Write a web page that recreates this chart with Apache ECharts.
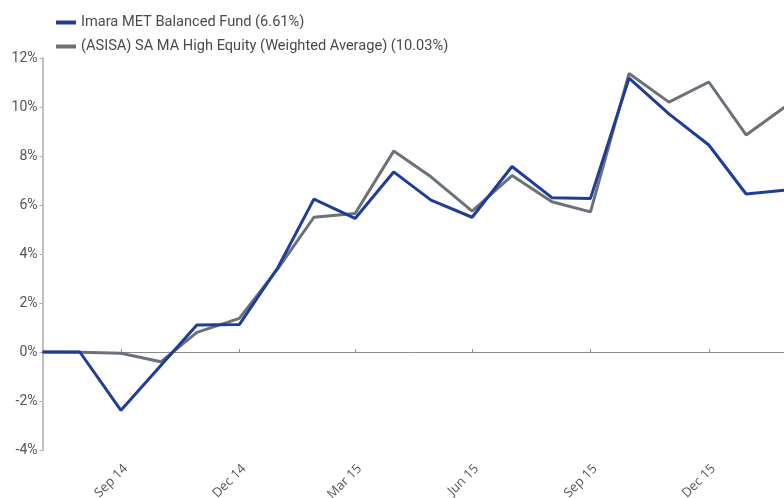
<!DOCTYPE html>
<html>
<head>
<meta charset="utf-8">
<script src="https://cdn.jsdelivr.net/npm/echarts@6/dist/echarts.min.js"></script>
<style>
  html, body { margin: 0; padding: 0; background: #fff; }
  #chart { width: 784px; height: 498px; }
</style>
</head>
<body>
<div id="chart"></div>
<script>
// ---- data ----
var dates = [
  '2014-07-31', '2014-08-29', '2014-09-30', '2014-10-31', '2014-11-28', '2014-12-31',
  '2015-01-30', '2015-02-27', '2015-03-31', '2015-04-30', '2015-05-29', '2015-06-30',
  '2015-07-31', '2015-08-31', '2015-09-30', '2015-10-30', '2015-11-30', '2015-12-31',
  '2016-01-29', '2016-02-29'
];
var fundName = 'Imara MET Balanced Fund (6.61%)';
var fundValues = [0, 0, -2.38, -0.55, 1.1, 1.12, 3.45, 6.24, 5.45, 7.35, 6.2, 5.5, 7.57, 6.3, 6.27, 11.18, 9.72, 8.45, 6.45, 6.61];
var peerName = '(ASISA) SA MA High Equity (Weighted Average) (10.03%)';
var peerValues = [0, -0.01, -0.05, -0.4, 0.8, 1.37, 3.4, 5.5, 5.65, 8.2, 7.15, 5.75, 7.2, 6.13, 5.72, 11.37, 10.2, 11.02, 8.86, 10.03];
var tickDates = ['2014-09-30', '2014-12-31', '2015-03-31', '2015-06-30', '2015-09-30', '2015-12-31'];
var tickLabels = ['Sep 14', 'Dec 14', 'Mar 15', 'Jun 15', 'Sep 15', 'Dec 15'];

// ---- helpers ----
function ts(s) {
  var p = s.split('-');
  return Date.UTC(+p[0], +p[1] - 1, +p[2]);
}
function pairs(vals) {
  return vals.map(function (v, i) { return [ts(dates[i]), v]; });
}
var tickTs = tickDates.map(ts);
var xMin = ts(dates[0]);
var xMax = ts(dates[dates.length - 1]);

var chart = echarts.init(document.getElementById('chart'), null, { renderer: 'canvas' });
var textFont = 'Roboto, "Open Sans", sans-serif';

chart.setOption({
  animation: false,
  backgroundColor: '#ffffff',
  legend: {
    orient: 'vertical',
    left: 51,
    top: 10,
    itemWidth: 20,
    itemHeight: 4,
    itemGap: 9,
    icon: 'rect',
    textStyle: { fontFamily: textFont, fontSize: 14.6, color: '#4a4a4a' },
    data: [fundName, peerName]
  },
  grid: { left: 42.5, right: -2, top: 58, bottom: 48, containLabel: false, outerBoundsMode: 'none' },
  xAxis: [
    {
      type: 'value',
      min: xMin,
      max: xMax,
      axisLine: { show: false, onZero: false },
      axisTick: { show: false },
      splitLine: { show: false },
      axisLabel: {
        customValues: tickTs,
        rotate: 45,
        margin: 12,
        verticalAlign: 'top',
        fontFamily: '"Open Sans", sans-serif',
        fontSize: 13,
        color: '#555',
        formatter: function (v) {
          var i = tickTs.indexOf(v);
          return i >= 0 ? tickLabels[i] : '';
        }
      }
    },
    {
      type: 'value',
      min: xMin,
      max: xMax,
      axisLine: { show: true, onZero: true, lineStyle: { color: '#8a8a8a', width: 1 } },
      axisTick: { show: true, customValues: tickTs, length: 3, lineStyle: { color: '#8a8a8a' } },
      axisLabel: { show: false },
      splitLine: { show: false }
    }
  ],
  yAxis: {
    type: 'value',
    min: -4,
    max: 12,
    interval: 2,
    axisLine: { show: true, lineStyle: { color: '#aaaaaa', width: 1.5 } },
    axisTick: { show: true, length: 3, lineStyle: { color: '#aaaaaa' } },
    splitLine: { show: false },
    axisLabel: {
      margin: 5,
      fontFamily: textFont,
      fontSize: 14,
      color: '#555',
      formatter: '{value}%'
    }
  },
  series: [
    {
      name: peerName,
      type: 'line',
      xAxisIndex: 0,
      data: pairs(peerValues),
      symbol: 'none',
      z: 2,
      color: '#6b7178',
      lineStyle: { color: '#6b7178', width: 3 }
    },
    {
      name: fundName,
      type: 'line',
      xAxisIndex: 0,
      data: pairs(fundValues),
      symbol: 'none',
      z: 3,
      color: '#1f3d96',
      lineStyle: { color: '#1f3d96', width: 3 }
    }
  ]
});
</script>
</body>
</html>
